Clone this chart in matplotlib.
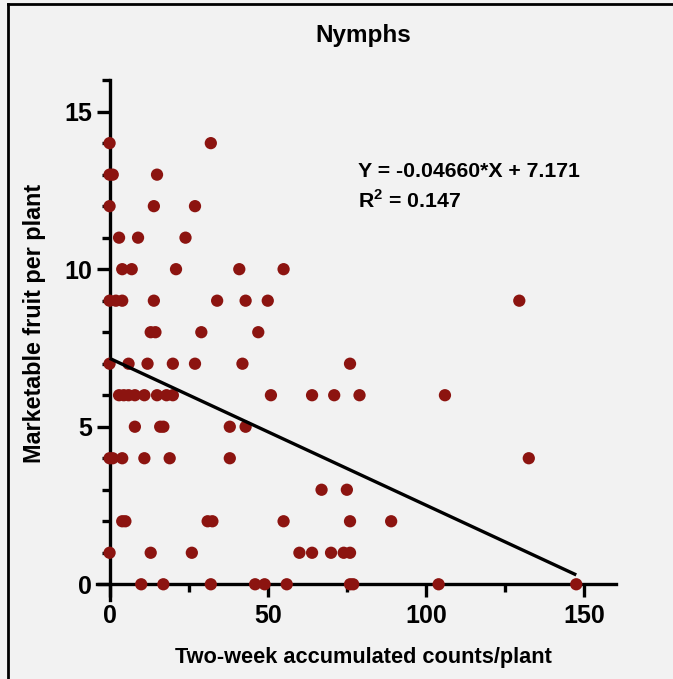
import matplotlib
matplotlib.use("Agg")
import matplotlib.pyplot as plt
from matplotlib.lines import Line2D
from matplotlib.ticker import MultipleLocator

# Fuente tipo Arial en negrita para todo
plt.rcParams["font.family"] = ["Liberation Sans", "DejaVu Sans"]
plt.rcParams["font.weight"] = "bold"
plt.rcParams["mathtext.fontset"] = "custom"
plt.rcParams["mathtext.rm"] = "Liberation Sans:bold"
plt.rcParams["mathtext.bf"] = "Liberation Sans:bold"

# ---------------------------------------------------------
# DATOS (agrupados por fila de Y)
# ---------------------------------------------------------
conteos_y14 = [0, 32]
conteos_y13 = [0, 1, 15]
conteos_y12 = [0, 14, 27]
conteos_y11 = [3, 9, 24]
conteos_y10 = [4, 7, 21, 41, 55]
conteos_y9 = [0, 2, 4, 14, 34, 43, 50, 129.5]
conteos_y8 = [13, 14.5, 29, 47]
conteos_y7 = [0, 6, 12, 20, 27, 42, 76]
conteos_y6 = [3, 4.5, 6, 8, 11, 15, 18, 20, 51, 64, 71, 79, 106]
conteos_y5 = [8, 16, 17, 38, 43]
conteos_y4 = [0, 1, 4, 11, 19, 38, 132.5]
conteos_y3 = [67, 75]
conteos_y2 = [4, 5, 31, 32.5, 55, 76, 89]
conteos_y1 = [0, 13, 26, 60, 64, 70, 74, 76]
conteos_y0 = [10, 17, 32, 46, 49, 56, 76, 77, 104, 147.5]

filas = {
    14: conteos_y14, 13: conteos_y13, 12: conteos_y12, 11: conteos_y11,
    10: conteos_y10, 9: conteos_y9, 8: conteos_y8, 7: conteos_y7,
    6: conteos_y6, 5: conteos_y5, 4: conteos_y4, 3: conteos_y3,
    2: conteos_y2, 1: conteos_y1, 0: conteos_y0,
}

x_vals = []
y_vals = []
for fruto, conteos in filas.items():
    x_vals += conteos
    y_vals += [fruto] * len(conteos)

# Regresion lineal reportada
pendiente = -0.04660
intercepto = 7.171
texto_ecuacion = "Y = -0.04660*X + 7.171"
texto_r2 = r"R$^{2}$ = 0.147"

rojo = "#8c1410"
fondo = "#f2f2f2"

# ---------------------------------------------------------
# FIGURA
# ---------------------------------------------------------
fig = plt.figure(figsize=(6.73, 6.79), dpi=100, facecolor=fondo)
ax = fig.add_axes([0.144, 0.1163, 0.771, 0.7657], facecolor=fondo)

ax.scatter(x_vals, y_vals, s=78, color=rojo, edgecolors="none",
           zorder=3, clip_on=False)

x_lin = [min(x_vals), max(x_vals)]
y_lin = [pendiente * v + intercepto for v in x_lin]
ax.plot(x_lin, y_lin, color="black", linewidth=2.4, zorder=4,
        solid_capstyle="butt")

ax.set_xlim(-4, 160)
ax.set_ylim(-0.5, 16)

# Ejes estilo Prism: cruzan en cero
for lado in ["top", "right"]:
    ax.spines[lado].set_visible(False)
ax.spines["left"].set_position(("data", 0))
ax.spines["bottom"].set_position(("data", 0))
for lado in ["left", "bottom"]:
    ax.spines[lado].set_linewidth(2.4)
    ax.spines[lado].set_zorder(2)

ax.xaxis.set_major_locator(MultipleLocator(50))
ax.xaxis.set_minor_locator(MultipleLocator(25))
ax.yaxis.set_major_locator(MultipleLocator(5))
ax.yaxis.set_minor_locator(MultipleLocator(1))
ax.set_xticks([0, 50, 100, 150])
ax.set_yticks([0, 5, 10, 15])

ax.tick_params(axis="both", which="major", direction="out", length=9.5,
               width=2.4, labelsize=18, pad=3)
ax.tick_params(axis="both", which="minor", direction="out", length=5.5,
               width=2.4)
ax.tick_params(axis="x", which="major", pad=5)

# Textos
fig.text(0.540, 0.948, "Nymphs", ha="center", va="center", fontsize=17.5)
fig.text(0.540, 0.032, "Two-week accumulated counts/plant",
         ha="center", va="center", fontsize=15.7)
fig.text(0.052, 0.524, "Marketable fruit per plant", ha="center",
         va="center", rotation=90, fontsize=16.8)
fig.text(0.532, 0.7467, texto_ecuacion, ha="left", va="center", fontsize=15.3)
fig.text(0.532, 0.704, texto_r2, ha="left", va="center", fontsize=15.3)

# Marco negro (izquierda y arriba)
y_marco = 1 - 4 / 679
x_marco = 8 / 673
fig.add_artist(Line2D([x_marco, x_marco], [0, y_marco], color="black",
                      linewidth=2, transform=fig.transFigure))
fig.add_artist(Line2D([x_marco, 1], [y_marco, y_marco], color="black",
                      linewidth=2, transform=fig.transFigure))

fig.savefig("out.png", dpi=100, facecolor=fondo)
